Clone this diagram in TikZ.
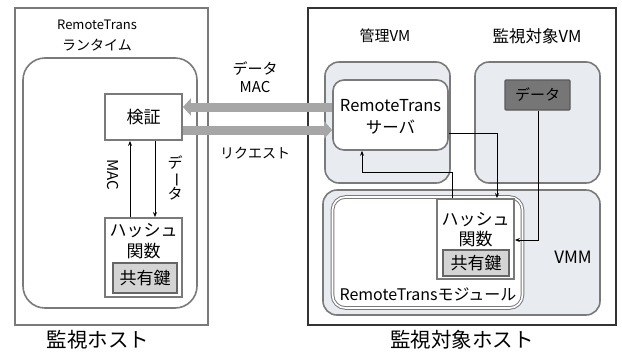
\documentclass[tikz,border=0pt]{standalone}
\usepackage{fontspec}
\usepackage{graphicx}
\setmainfont{Noto Sans CJK JP}
\usetikzlibrary{arrows.meta}
\definecolor{vmfill}{HTML}{E8EBEF}
\definecolor{bord}{HTML}{7A7A7A}
\definecolor{keyfill}{HTML}{D4D4D4}
\definecolor{datfill}{HTML}{767676}
\newcommand{\fs}[1]{\fontsize{#1}{#1}\selectfont}
\tikzset{
  every node/.style={font=\fs{13}, inner sep=0pt},
  hostL/.style={draw=bord, line width=2pt, fill=white},
  hostR/.style={draw=black!80, line width=2pt, fill=white},
  vmbox/.style={draw=bord, line width=1.6pt, fill=vmfill, rounded corners=14pt},
  wbox/.style={draw=bord, line width=1.6pt, fill=white, rounded corners=11pt},
  modbox/.style={draw=bord, line width=1pt, double=white, double distance=1.6pt, fill=white, rounded corners=13pt},
  plainbox/.style={draw=bord, line width=1.8pt, fill=white},
  keybox/.style={draw=black!60, line width=1.8pt, fill=keyfill},
  datbox/.style={draw=black!65, line width=1.2pt, fill=datfill, rounded corners=1pt},
  fat/.style={draw=gray!70, line width=9pt, -{Triangle[width=17pt,length=8pt]}},
  arr/.style={draw=black, line width=0.8pt, -{Stealth[length=5pt,width=4pt]}},
  jp/.style={font=\fs{17}},
  big/.style={font=\fs{20.5}},
}
\begin{document}
\begin{tikzpicture}[x=1pt,y=-1pt]
\useasboundingbox (0,0) rectangle (622,354);
% left host
\node[hostL, minimum width=193pt, minimum height=317pt] (hl) at (111.5,166.5) {};
\node (rtt) at (97,25) {RemoteTrans};
\node[font=\fs{14}] (rtt2) at (97,45) {ランタイム};
\node[wbox, rounded corners=22pt, minimum width=174pt, minimum height=250pt] (rt) at (110,183) {};
\node[plainbox, jp, minimum width=77pt, minimum height=46pt] (ver) at (143.5,117) {検証};
\node[plainbox, minimum width=77pt, minimum height=79pt] (lh) at (143.5,257.5) {};
\node[jp] (lh1) at (143.5,231) {ハッシュ};
\node[jp] (lh2) at (143.5,251) {関数};
\node[keybox, jp, minimum width=64pt, minimum height=30pt] (lk) at (145,278) {共有鍵};
\node[big] (hlname) at (98,340) {監視ホスト};
% left thin arrows
\draw[arr] (lh.north -| 130,0) -- (ver.south -| 130,0);
\draw[arr] (ver.south -| 155,0) -- (lh.north -| 155,0);
\node[rotate=-90, font=\fs{15}] (macv) at (113,175) {MAC};
\node[align=center, font=\fs{15}] (datv) at (175,178) {デ\\[-1pt]\rotatebox[origin=c]{-90}{ー}\\[-1pt]タ};
% right host
\node[hostR, minimum width=308pt, minimum height=317pt] (hr) at (462,166.5) {};
\node[font=\fs{15}] (mvl) at (385,36) {管理VM};
\node[font=\fs{16.5}] (tvl) at (537,36) {監視対象VM};
\node[vmbox, minimum width=125pt, minimum height=121pt] (mvm) at (387.5,122.5) {};
\node[wbox, minimum width=115pt, minimum height=70pt] (srv) at (390.5,115) {};
\node[font=\fs{16.5}] (srv1) at (390.5,106) {RemoteTrans};
\node[font=\fs{16.5}] (srv2) at (390.5,127) {サーバ};
\node[vmbox, minimum width=125pt, minimum height=121pt] (tvm) at (537.5,122.5) {};
\node[datbox, font=\fs{15}, minimum width=65pt, minimum height=30pt] (dat) at (537.5,95) {データ};
\node[vmbox, minimum width=277pt, minimum height=125pt] (vmm) at (461.5,252.5) {};
\node[font=\fs{17}] (vmml) at (573,257) {VMM};
\node[modbox, minimum width=190pt, minimum height=111pt] (mod) at (427.5,252.5) {};
\node[font=\fs{16}] (modl) at (428,294) {RemoteTransモジュール};
\node[plainbox, minimum width=77pt, minimum height=80pt] (rh) at (475.5,239) {};
\node[jp] (rh1) at (475.5,220) {ハッシュ};
\node[jp] (rh2) at (475.5,239) {関数};
\node[keybox, jp, minimum width=66pt, minimum height=26pt] (rk) at (476,263) {共有鍵};
\node[big] (hrname) at (462,340) {監視対象ホスト};
% right thin arrows
\draw[arr] (srv.east |- 0,133) -| (rh.north -| 497,0);
\draw[arr] (rh.north -| 452,0) -- (452,172) -| (srv.south -| 362,0);
\draw[arr] (dat.south -| 538,0) |- (rh.east |- 0,240);
% fat arrows
\draw[fat] (srv.west |- 0,107) -- (ver.east |- 0,107);
\draw[fat] (ver.east |- 0,130) -- (srv.west |- 0,130);
\node[align=center, font=\fs{15}] (dm) at (255,77) {データ\\[3pt]MAC};
\node[font=\fs{14}] (req) at (255,153) {リクエスト};
\end{tikzpicture}
\end{document}
